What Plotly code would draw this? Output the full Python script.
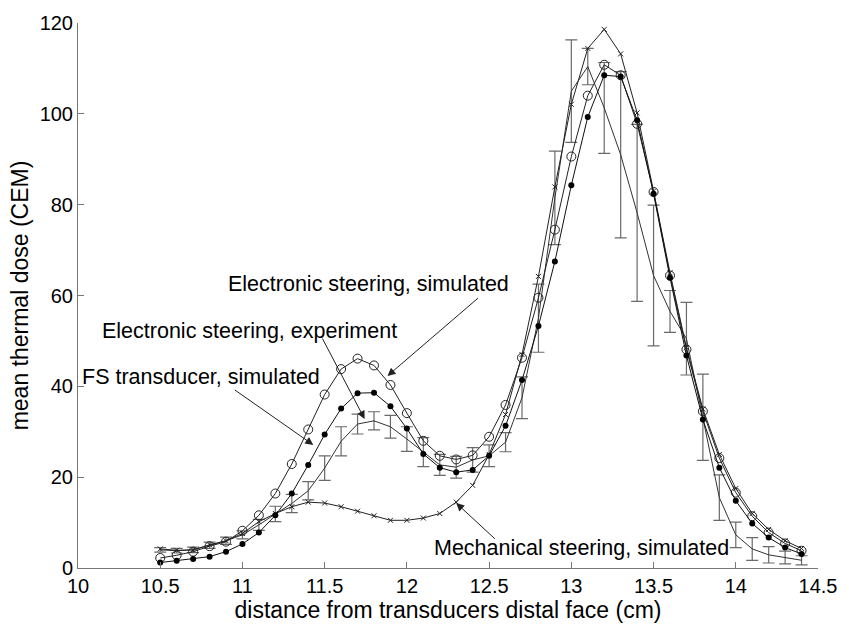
import plotly.graph_objects as go

x = [round(10.5 + 0.1 * i, 1) for i in range(40)]

elec_sim = [2.2, 2.8, 3.6, 4.8, 5.8, 8.2, 11.6, 16.4, 22.9, 30.5, 38.2, 43.8, 46.1, 44.6, 40.3,
            34.1, 28.0, 24.7, 23.9, 24.8, 28.9, 35.9, 46.3, 59.5, 74.5, 90.6, 104.0, 110.8, 108.5,
            97.8, 82.8, 64.4, 48.1, 34.5, 24.2, 16.6, 11.4, 7.8, 5.4, 3.8]

elec_exp = [1.2, 1.6, 2.0, 2.5, 3.6, 5.3, 7.8, 11.6, 16.4, 22.7, 29.4, 35.1, 38.5, 38.6, 35.6,
            30.7, 25.1, 22.1, 21.1, 21.6, 24.7, 31.3, 41.4, 53.3, 67.5, 84.3, 99.3, 108.5, 108.2,
            98.6, 82.4, 63.9, 46.8, 32.7, 22.1, 14.8, 9.8, 6.7, 4.5, 3.1]

fs_mean = [4.0, 3.8, 4.0, 5.0, 6.0, 7.3, 9.5, 11.9, 14.2, 17.0, 22.0, 27.9, 31.7, 32.4, 31.1,
           28.4, 25.5, 22.7, 22.2, 23.8, 24.7, 27.7, 37.5, 55.0, 81.5, 105.0, 110.4, 101.3, 91.0,
           78.2, 64.4, 56.5, 50.5, 33.2, 15.5, 7.3, 4.2, 2.9, 2.3, 1.7]
fs_err = [0.5, 0.5, 0.6, 0.7, 0.8, 0.9, 1.2, 1.7, 2.0, 2.0, 2.7, 3.2, 2.2, 2.0, 2.5,
          2.7, 3.2, 2.3, 2.4, 2.7, 2.4, 2.1, 4.6, 7.5, 10.3, 11.3, 4.0, 10.0, 18.3,
          19.5, 15.5, 4.6, 8.0, 9.5, 5.0, 2.8, 2.5, 1.8, 1.4, 1.0]

mech_sim = [4.2, 3.9, 4.0, 5.1, 6.0, 7.6, 10.2, 12.0, 13.5, 14.5, 14.3, 13.5, 12.5, 11.5, 10.5,
            10.5, 11.0, 12.0, 14.5, 18.2, 25.0, 33.8, 47.0, 64.2, 83.9, 102.1, 114.4, 118.6, 113.2,
            100.2, 83.0, 65.0, 48.5, 35.0, 25.0, 17.5, 12.0, 8.5, 6.0, 4.3]

fig = go.Figure()

fig.add_trace(go.Scatter(
    x=x, y=fs_mean, mode="lines",
    line=dict(color="#333333", width=1),
    error_y=dict(type="data", array=fs_err, visible=True, color="#6a6a6a", thickness=1.2, width=6),
    name="FS transducer, simulated (experiment)"))

fig.add_trace(go.Scatter(
    x=x, y=mech_sim, mode="lines+markers",
    line=dict(color="#222222", width=1),
    marker=dict(symbol="x-thin-open", size=5, color="#222222", line=dict(width=1, color="#222222")),
    name="Mechanical steering, simulated"))

fig.add_trace(go.Scatter(
    x=x, y=elec_sim, mode="lines+markers",
    line=dict(color="#222222", width=1),
    marker=dict(symbol="circle-open", size=9, color="#222222", line=dict(width=1, color="#222222")),
    name="Electronic steering, simulated"))

fig.add_trace(go.Scatter(
    x=x, y=elec_exp, mode="lines+markers",
    line=dict(color="#111111", width=1),
    marker=dict(symbol="circle", size=6, color="#000000"),
    name="Electronic steering, experiment"))

font = "Liberation Sans, Arial, Helvetica, sans-serif"

L, R, T, B = 78, 827, 17, 570

annots = [
    dict(text="Electronic steering, simulated", x=11.882, y=42.3, ax=92, ay=-79,
         tx=228, ty=282),
    dict(text="Electronic steering, experiment", x=11.743, y=32.8, ax=-43, ay=-82,
         tx=100, ty=330),
    dict(text="FS transducer, simulated", x=11.431, y=27.1, ax=-80, ay=-56,
         tx=80, ty=376),
    dict(text="Mechanical steering, simulated", x=12.3, y=14.3, ax=40, ay=37,
         tx=436, ty=550),
]

for a in annots:
    fig.add_annotation(x=a["x"], y=a["y"], ax=a["ax"], ay=a["ay"], xref="x", yref="y",
                       axref="pixel", ayref="pixel", text="", showarrow=True,
                       arrowhead=2, arrowsize=1.6, arrowwidth=1, arrowcolor="#222222")
    fig.add_annotation(x=(a["tx"] - L) / (R - L), y=(B - a["ty"]) / (B - T),
                       xref="paper", yref="paper",
                       xanchor="left", yanchor="middle", text=a["text"], showarrow=False,
                       font=dict(family=font, size=21.5, color="#000000"))

fig.update_layout(
    width=849, height=625,
    margin=dict(l=L, r=849 - R, t=T, b=625 - B, pad=0),
    paper_bgcolor="white", plot_bgcolor="white",
    showlegend=False,
    font=dict(family=font, size=20, color="#000000"),
)

fig.update_xaxes(range=[10, 14.5], tickvals=[10, 10.5, 11, 11.5, 12, 12.5, 13, 13.5, 14, 14.5],
                 ticktext=["10", "10.5", "11", "11.5", "12", "12.5", "13", "13.5", "14", "14.5"],
                 ticks="inside", ticklen=6, tickcolor="#777777", showline=True, linecolor="#777777",
                 linewidth=1, showgrid=False, zeroline=False,
                 title=dict(text="distance from transducers distal face (cm)", standoff=0,
                            font=dict(size=23)),
                 tickfont=dict(size=20))
fig.update_yaxes(range=[0, 120], tickvals=[0, 20, 40, 60, 80, 100, 120],
                 ticks="inside", ticklen=6, tickcolor="#777777", showline=True, linecolor="#777777",
                 linewidth=1, showgrid=False, zeroline=False,
                 title=dict(text="mean thermal dose (CEM)", standoff=4, font=dict(size=23)),
                 tickfont=dict(size=20))

fig.write_html("out.html")
